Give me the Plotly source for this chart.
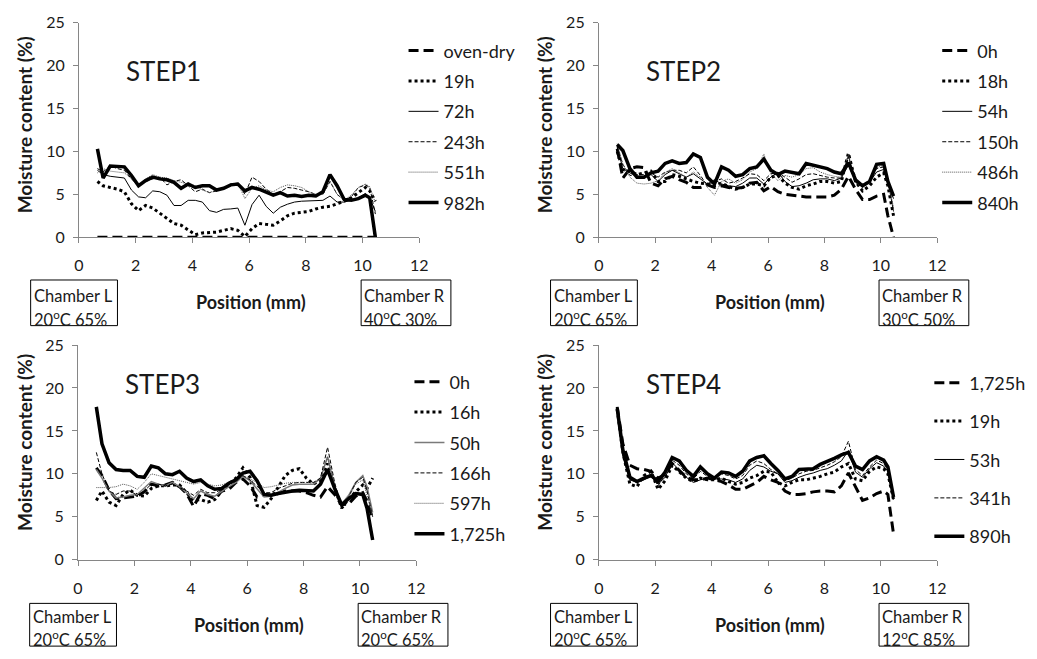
import plotly.graph_objects as go

W, H = 1037, 659
FONT = "Lato, 'Open Sans', sans-serif"

# ---------------- data ----------------
X = [0.65, 0.85, 1.1, 1.35, 1.6, 1.85, 2.1, 2.35, 2.6, 2.85, 3.1, 3.35, 3.6, 3.85,
     4.1, 4.35, 4.6, 4.85, 5.1, 5.35, 5.6, 5.85, 6.1, 6.35, 6.6, 6.85, 7.1, 7.35,
     7.6, 7.85, 8.1, 8.35, 8.6, 8.85, 9.1, 9.35, 9.6, 9.85, 10.1, 10.25, 10.45]

# STEP1
LEG1 = ["oven-dry", "19h", "72h", "243h", "551h", "982h"]
S1_OVEN = [0, 0, 0, 0, 0, 0, 0, 0, 0, 0, 0, 0, 0, 0, 0, 0, 0, 0, 0, 0, 0,
           0, 0, 0, 0, 0, 0, 0, 0, 0, 0, 0, 0, 0, 0, 0, 0, 0, 0, 0, 0]
S1_19H = [6.5, 6.0, 5.8, 5.6, 5.3, 3.9, 3.1, 3.7, 3.4, 2.8, 2.2, 1.6, 1.4, 0.9, 0.3, 0.5, 0.55,
          0.6, 0.8, 1.0, 0.8, 0.1, 1.0, 1.6, 1.5, 1.4, 1.9, 2.5, 2.8, 2.9, 3.0, 3.3, 3.5, 3.6,
          3.9, 4.2, 4.6, 5.2, 5.8, 5.4, 4.2]
S1_72H = [7.8, 7.3, 7.1, 7.0, 6.9, 5.5, 4.7, 4.6, 5.4, 5.3, 4.9, 3.7, 3.7, 4.3, 4.3, 4.1, 3.1,
          2.9, 3.25, 3.3, 3.4, 1.4, 3.8, 4.9, 3.6, 2.8, 3.5, 3.85, 4.1, 4.2, 4.25, 4.3, 4.3,
          4.8, 4.1, 4.1, 4.3, 4.6, 5.1, 4.6, 3.0]
S1_243H = [8.0, 7.6, 8.3, 8.0, 7.8, 6.8, 6.0, 6.5, 6.8, 7.0, 6.1, 6.5, 6.7, 6.0, 5.3, 5.6, 5.2,
           5.4, 5.7, 6.2, 6.3, 5.0, 7.0, 6.5, 5.6, 5.0, 5.3, 5.8, 5.7, 5.5, 5.3, 5.0, 5.0, 6.5,
           5.0, 4.3, 4.7, 5.8, 6.1, 5.8, 2.7]
S1_551H = [7.5, 8.0, 7.7, 7.6, 7.5, 6.8, 6.0, 6.8, 7.3, 7.0, 6.9, 6.6, 6.4, 6.2, 6.0, 5.5, 5.2,
           5.5, 5.8, 6.0, 6.3, 4.5, 5.7, 6.0, 5.5, 5.3, 5.8, 6.1, 6.0, 5.8, 5.3, 5.0, 5.0, 6.5,
           5.0, 4.3, 4.9, 5.8, 6.2, 5.9, 4.0]
S1_982H = [10.3, 6.9, 8.3, 8.3, 8.2, 7.2, 6.0, 6.6, 7.0, 6.8, 6.7, 6.4, 5.7, 6.2, 5.8, 6.0, 6.0,
           5.5, 5.7, 6.1, 6.2, 5.4, 5.8, 5.6, 5.2, 4.9, 5.2, 4.8, 4.9, 4.75, 4.9, 4.8, 5.3, 7.3,
           6.0, 4.4, 4.3, 4.5, 4.9, 4.6, 0.0]

# STEP2
LEG2 = ["0h", "18h", "54h", "150h", "486h", "840h"]
S2_0H = [10.3, 6.9, 8.0, 8.2, 8.1, 6.3, 6.0, 6.8, 7.1, 6.7, 6.4, 5.8, 5.8, 6.1, 5.8, 6.0, 5.8,
         5.7, 5.8, 6.3, 6.4, 5.4, 5.9, 5.3, 5.0, 4.9, 4.8, 4.7, 4.7, 4.7, 4.7, 4.9, 5.6, 7.1,
         5.6, 4.4, 4.4, 4.8, 5.0, 2.5, 0.0]
S2_18H = [10.0, 7.9, 7.7, 7.3, 7.5, 7.7, 6.5, 6.5, 7.3, 7.1, 6.8, 6.5, 6.3, 6.2, 6.0, 6.3, 5.9,
          5.6, 5.8, 6.2, 6.2, 6.0, 7.0, 7.2, 6.3, 5.8, 5.6, 6.0, 6.2, 6.5, 6.5, 6.3, 6.5, 9.8,
          6.5, 5.4, 6.0, 7.0, 7.5, 6.0, 2.5]
S2_54H = [10.5, 8.0, 7.5, 7.1, 7.1, 7.3, 6.5, 7.3, 7.8, 7.4, 7.0, 7.4, 6.8, 6.2, 6.7, 6.2, 6.0,
          5.9, 6.3, 6.9, 6.9, 6.2, 7.0, 7.6, 6.5, 5.9, 6.0, 6.3, 6.7, 6.8, 6.8, 6.6, 6.9, 8.4,
          6.5, 6.0, 6.4, 7.6, 7.9, 6.2, 4.5]
S2_150H = [10.6, 8.5, 7.2, 7.3, 7.3, 7.5, 7.0, 7.6, 7.8, 7.8, 7.5, 8.2, 7.2, 6.0, 6.5, 6.8, 6.3,
           6.5, 6.9, 7.4, 7.3, 6.6, 7.4, 7.5, 7.0, 6.4, 6.8, 7.3, 7.4, 7.2, 7.0, 6.9, 6.9, 9.5,
           6.4, 6.0, 6.5, 8.0, 8.2, 6.6, 3.0]
S2_486H = [10.9, 8.5, 7.0, 6.3, 6.2, 6.3, 6.6, 7.5, 8.0, 7.5, 7.0, 7.6, 7.0, 5.8, 4.9, 6.5, 6.8,
           6.3, 6.7, 7.6, 8.0, 9.7, 7.4, 6.6, 7.2, 7.0, 7.3, 8.0, 8.1, 7.6, 7.3, 7.1, 7.0, 9.7,
           6.3, 5.9, 6.5, 8.1, 8.4, 6.5, 3.5]
S2_840H = [10.8, 10.1, 8.0, 7.0, 7.0, 7.5, 7.7, 8.6, 8.9, 8.6, 8.7, 9.7, 9.3, 7.0, 6.2, 8.2, 7.8,
           7.1, 7.3, 8.0, 8.2, 9.1, 7.8, 7.3, 7.7, 7.6, 7.4, 8.6, 8.4, 8.2, 8.0, 7.6, 7.4, 8.7,
           6.7, 6.0, 6.5, 8.5, 8.6, 6.5, 4.8]

# STEP3
LEG3 = ["0h", "16h", "50h", "166h", "597h", "1,725h"]
S3_0H = [10.7, 9.8, 8.1, 7.1, 7.2, 7.3, 7.4, 7.9, 8.8, 8.6, 8.7, 9.0, 8.5, 7.7, 6.2, 7.7, 7.5,
         7.1, 8.0, 8.2, 9.0, 9.4, 8.6, 7.3, 7.6, 7.5, 7.7, 8.0, 8.0, 8.0, 7.8, 7.5, 7.3, 8.5,
         7.6, 6.4, 6.5, 7.4, 7.8, 6.8, 4.8]
S3_16H = [6.9, 8.0, 6.7, 6.3, 7.6, 8.1, 7.5, 7.4, 8.3, 8.6, 8.6, 8.7, 8.7, 7.8, 6.9, 7.0, 6.7,
          7.0, 8.0, 8.8, 9.5, 10.7, 9.6, 6.3, 6.1, 7.1, 8.5, 9.8, 10.4, 10.6, 9.5, 8.8, 9.3,
          11.2, 8.4, 6.0, 7.1, 7.9, 8.7, 8.3, 9.5]
S3_50H = [10.5, 9.5, 8.0, 7.2, 7.3, 7.5, 7.6, 8.3, 9.1, 8.8, 8.6, 9.0, 8.5, 7.8, 7.1, 8.0, 7.6,
          7.4, 8.0, 8.5, 9.0, 9.7, 9.2, 8.3, 7.3, 7.4, 7.9, 8.3, 8.7, 8.8, 8.8, 8.8, 9.5, 12.0,
          8.5, 6.5, 7.5, 9.0, 9.8, 8.5, 5.5]
S3_166H = [12.5, 10.0, 8.0, 7.6, 8.0, 8.0, 7.5, 8.0, 8.8, 8.8, 8.6, 8.8, 8.4, 8.0, 7.5, 8.2, 7.8,
           7.8, 8.2, 8.7, 9.3, 9.8, 9.3, 8.6, 7.8, 7.8, 8.3, 8.6, 8.9, 9.0, 9.0, 9.0, 9.5, 13.1,
           9.0, 6.0, 7.3, 9.0, 9.6, 8.0, 5.0]
S3_597H = [8.4, 8.4, 8.4, 8.5, 8.8, 8.6, 8.2, 9.0, 10.0, 9.8, 9.6, 9.4, 9.2, 9.0, 8.8, 9.0, 8.8,
           8.6, 8.7, 9.0, 9.2, 9.8, 9.4, 9.0, 8.4, 8.5, 8.7, 8.9, 9.0, 9.0, 9.0, 9.0, 9.3, 12.0,
           8.8, 6.5, 7.3, 8.8, 9.3, 7.5, 5.0]
S3_1725H = [17.8, 13.5, 11.3, 10.5, 10.4, 10.4, 9.7, 9.6, 10.9, 10.7, 10.0, 9.9, 10.3, 9.5, 9.1,
            9.3, 8.6, 8.2, 8.3, 8.9, 9.3, 10.1, 10.3, 9.2, 7.6, 7.5, 7.7, 7.9, 8.0, 8.1, 8.0,
            8.0, 8.8, 10.5, 8.3, 6.4, 7.1, 7.7, 7.6, 6.0, 2.3]

# STEP4
LEG4 = ["1,725h", "19h", "53h", "341h", "890h"]
S4_1725H = [17.8, 13.5, 11.0, 10.6, 10.5, 10.3, 9.5, 9.9, 11.2, 10.4, 9.6, 9.3, 9.3, 9.5, 9.3,
            9.1, 8.7, 8.2, 8.2, 8.6, 9.0, 9.7, 9.3, 9.0, 8.0, 7.6, 7.6, 7.7, 7.9, 8.0, 8.0, 7.9,
            8.6, 10.1, 8.5, 6.9, 7.2, 7.7, 8.0, 7.6, 3.0]
S4_19H = [17.5, 12.5, 8.8, 8.5, 9.8, 10.3, 8.2, 9.2, 11.0, 10.3, 9.5, 9.1, 9.5, 9.3, 9.3, 9.5,
          9.1, 8.8, 9.0, 9.5, 9.8, 10.3, 10.2, 9.0, 8.6, 9.0, 9.3, 9.3, 9.5, 9.7, 10.0, 10.2,
          10.8, 11.2, 9.4, 9.2, 10.3, 10.8, 10.6, 10.0, 7.0]
S4_53H = [17.5, 12.0, 9.3, 9.0, 9.3, 9.7, 8.8, 9.6, 11.3, 10.5, 9.6, 9.0, 9.3, 9.5, 9.4, 9.4,
          9.3, 9.0, 9.4, 10.4, 11.0, 10.8, 10.3, 10.0, 9.0, 9.2, 9.6, 9.9, 10.1, 10.4, 10.6,
          11.0, 11.5, 12.7, 10.2, 9.6, 10.6, 11.3, 10.9, 10.3, 7.2]
S4_341H = [17.7, 12.5, 9.4, 9.2, 9.6, 9.9, 8.6, 9.9, 11.6, 11.0, 10.0, 9.4, 10.3, 9.7, 9.6, 10.0,
           9.8, 9.4, 9.8, 11.0, 11.5, 11.2, 10.5, 10.0, 9.2, 9.5, 10.0, 10.3, 10.4, 10.7, 11.0,
           11.4, 12.0, 13.8, 10.5, 9.8, 10.8, 11.6, 11.2, 10.5, 7.0]
S4_890H = [17.6, 12.8, 9.6, 9.1, 9.5, 9.8, 9.1, 10.2, 11.9, 11.5, 10.4, 9.7, 10.8, 10.0, 9.5,
           10.2, 10.1, 9.7, 10.3, 11.5, 11.9, 12.1, 11.2, 10.4, 9.4, 9.7, 10.5, 10.6, 10.6, 11.1,
           11.4, 11.8, 12.2, 12.5, 10.9, 10.5, 11.5, 12.0, 11.6, 10.8, 7.3]

X_TICKS = [0, 2, 4, 6, 8, 10, 12]
Y_TICKS = [0, 5, 10, 15, 20, 25]
STEPS = ["STEP1", "STEP2", "STEP3", "STEP4"]
CHAMBER_L = "20<sup>o</sup>C 65%"
CHAMBER_R = ["40<sup>o</sup>C 30%", "30<sup>o</sup>C 50%", "20<sup>o</sup>C 65%", "12<sup>o</sup>C 85%"]

# ---------------- styles ----------------
ST = {
    "thick_dash": dict(color="black", width=3, dash="10px,5px"),
    "dot": dict(color="black", width=3, dash="dot"),
    "thin": dict(color="black", width=1),
    "thin_gray": dict(color="#7a7a7a", width=1.5),
    "thin_dash": dict(color="black", width=1, dash="4px,2px"),
    "fine_dot": dict(color="#555555", width=1, dash="1px,1px"),
    "thick": dict(color="black", width=3.5),
}

# pixel geometry of each panel
PANELS = [
    dict(series=[S1_OVEN, S1_19H, S1_72H, S1_243H, S1_551H, S1_982H], names=LEG1,
         styles=["thick_dash", "dot", "thin", "thin_dash", "fine_dot", "thick"],
         xpx=(75, 420), ypx=(234, 13), leg=(404, 23), gap=4,
         step_y=63, ytitle_y=118, box=(278, 325), txt=(295, 318)),
    dict(series=[S2_0H, S2_18H, S2_54H, S2_150H, S2_486H, S2_840H], names=LEG2,
         styles=["thick_dash", "dot", "thin", "thin_dash", "fine_dot", "thick"],
         xpx=(602, 945), ypx=(234, 13), leg=(945, 23), gap=4,
         step_y=63, ytitle_y=118, box=(278, 325), txt=(295, 318)),
    dict(series=[S3_0H, S3_16H, S3_50H, S3_166H, S3_597H, S3_1725H], names=LEG3,
         styles=["thick_dash", "dot", "thin_gray", "thin_dash", "fine_dot", "thick"],
         xpx=(74, 417), ypx=(566, 345), leg=(410, 364), gap=4,
         step_y=385, ytitle_y=445, box=(611, 655), txt=(625, 648)),
    dict(series=[S4_1725H, S4_19H, S4_53H, S4_341H, S4_890H], names=LEG4,
         styles=["thick_dash", "dot", "thin", "thin_dash", "thick"],
         xpx=(602, 945), ypx=(566, 345), leg=(937, 365), gap=12,
         step_y=385, ytitle_y=445, box=(611, 655), txt=(625, 648)),
]

fig = go.Figure()
layout = dict(
    width=W, height=H, margin=dict(l=0, r=0, t=0, b=0),
    paper_bgcolor="white", plot_bgcolor="white",
    font=dict(family=FONT, size=18, color="#1a1a1a"),
    showlegend=True,
)
annotations = []
shapes = []


def fx(p):
    return p / W


def fy(p):
    return 1 - p / H


def note(text, xp, yp, size=18, xanchor="center", angle=0):
    annotations.append(dict(text=text, x=fx(xp), y=fy(yp), xref="paper", yref="paper",
                            xanchor=xanchor, yanchor="middle", showarrow=False,
                            textangle=angle,
                            font=dict(family=FONT, size=size, color="#1a1a1a")))


for k, P in enumerate(PANELS):
    n = k + 1
    xa = "x" if n == 1 else f"x{n}"
    ya = "y" if n == 1 else f"y{n}"
    lg = "legend" if n == 1 else f"legend{n}"
    for i, (ser, name, st) in enumerate(zip(P["series"], P["names"], P["styles"])):
        fig.add_trace(go.Scatter(
            x=X, y=ser, mode="lines", name=name, line=ST[st],
            xaxis=xa, yaxis=ya, legend=lg, legendgroup=f"g{n}_{i}",
            hoverinfo="skip"))
    x0, x1 = P["xpx"]
    yb, yt = P["ypx"]
    axcommon = dict(showgrid=False, zeroline=False, showline=True, linecolor="#868686",
                    linewidth=1, ticks="outside", ticklen=5, tickcolor="#868686",
                    tickfont=dict(family=FONT, size=16, color="#1a1a1a"))
    layout["xaxis" if n == 1 else f"xaxis{n}"] = dict(
        domain=[fx(x0), fx(x1)], anchor=ya, range=[0, 12], tickvals=X_TICKS,
        ticklabelstandoff=9, **axcommon)
    layout["yaxis" if n == 1 else f"yaxis{n}"] = dict(
        domain=[fy(yb), fy(yt)], anchor=xa, range=[0, 25], tickvals=Y_TICKS,
        ticklabelstandoff=5, **axcommon)
    lx, ly = P["leg"]
    layout[lg] = dict(x=fx(lx), y=fy(ly), xanchor="left", yanchor="top",
                      xref="paper", yref="paper", bgcolor="rgba(0,0,0,0)",
                      font=dict(family=FONT, size=18, color="#1a1a1a"),
                      tracegroupgap=P["gap"], traceorder="grouped")

    # panel label and axis titles
    note(STEPS[k], x0 + 86, P["step_y"], size=26)
    note("<b>Moisture content (%)</b>", x0 - 55, P["ytitle_y"], size=19, angle=-90)
    note("<b>Position (mm)</b>", (x0 + x1) / 2 + 2, yb + 67, size=18)

    # chamber boxes
    btop, bbot = P["box"]
    t1, t2 = P["txt"]
    for (bx0, bx1), l1, l2 in [((x0 - 49, x0 + 39), "Chamber L", CHAMBER_L),
                               ((x1 - 59, x1 + 32), "Chamber R", CHAMBER_R[k])]:
        shapes.append(dict(type="rect", xref="paper", yref="paper",
                           x0=fx(bx0), x1=fx(bx1), y0=fy(bbot), y1=fy(btop),
                           line=dict(color="black", width=1), fillcolor="rgba(0,0,0,0)"))
        note(l1, bx0 + 1, t1, size=16.5, xanchor="left")
        note(l2, bx0 + 1, t2, size=16.5, xanchor="left")

layout["annotations"] = annotations
layout["shapes"] = shapes
fig.update_layout(**layout)
fig.write_html("out.html")
